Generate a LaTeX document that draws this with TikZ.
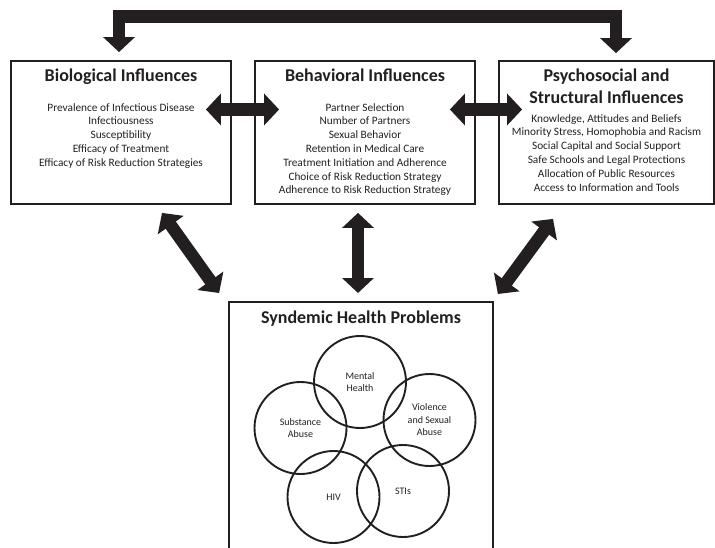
\documentclass[tikz,border=0pt]{standalone}
\usepackage{fontspec}
\setmainfont{Carlito}
\usetikzlibrary{arrows.meta,positioning}
\definecolor{ink}{HTML}{231F20}

\begin{document}
\begin{tikzpicture}[
  x=1pt, y=-1pt,
  box/.style={draw=ink, line width=1.8pt, minimum height=143pt, inner sep=0pt},
  heading/.style={font=\fontsize{18}{21.7}\selectfont\bfseries, align=center, text=ink, inner sep=0pt},
  items/.style={font=\fontsize{11.3}{13.8}\selectfont, align=center, text=ink, inner sep=0pt},
  issue/.style={draw=ink, line width=1.9pt, circle, minimum size=92pt, inner sep=0pt, align=center, text=ink, font=\fontsize{10}{12.5}\selectfont},
  darr/.style={line width=12.5pt, draw=ink, line join=miter, {Triangle[width=31pt,length=15pt]}-{Triangle[width=31pt,length=15pt]}}
]
\clip (0,0) rectangle (715,548);

% the three influence boxes
\node[box, minimum width=220pt] (bio) at (121,132.5) {};
\node[box, minimum width=220pt] (beh) at (365,132.5) {};
\node[box, minimum width=215pt] (psy) at (606.5,132.5) {};
\node[box, minimum width=264pt, minimum height=300pt, anchor=north] (synd) at (361,301) {};

\node[heading, below=9pt of bio.north] (biot) {Biological Influences};
\node[heading, below=9pt of beh.north] (beht) {Behavioral Influences};
\node[heading, below=9pt of psy.north] (psyt) {Psychosocial and\\Structural Influences};
\node[heading, below=10pt of synd.north] (syndt) {Syndemic Health Problems};

\node[items, below=43pt of bio.north] (bioi) {Prevalence of Infectious Disease\\Infectiousness\\Susceptibility\\Efficacy of Treatment\\Efficacy of Risk Reduction Strategies};
\node[items, below=43pt of beh.north] (behi) {Partner Selection\\Number of Partners\\Sexual Behavior\\Retention in Medical Care\\Treatment Initiation and Adherence\\Choice of Risk Reduction Strategy\\Adherence to Risk Reduction Strategy};
\node[items, below=54pt of psy.north] (psyi) {Knowledge, Attitudes and Beliefs\\Minority Stress, Homophobia and Racism\\Social Capital and Social Support\\Safe Schools and Legal Protections\\Allocation of Public Resources\\Access to Information and Tools};

% overlapping problems
\node[issue] (mental) at (360,382) {Mental\\Health};
\node[issue] (subst) at (300.5,428) {Substance\\Abuse};
\node[issue] (viol) at (429.5,420) {Violence\\and Sexual\\Abuse};
\node[issue] (hiv) at (333.5,497) {HIV};
\node[issue] (stis) at (403,491) {STIs};

% block arrows
\coordinate (topleft) at (119,16.5);
\coordinate (topright) at (616,16.5);
\draw[darr] ([xshift=-2pt,yshift=8pt]bio.north) -- (topleft) -- (topright) -- ([xshift=9.5pt,yshift=7pt]psy.north);
\draw[darr] ([xshift=-26pt,yshift=23pt]bio.east) -- ([xshift=25pt,yshift=23pt]beh.west);
\draw[darr] ([xshift=-26pt,yshift=23pt]beh.east) -- ([xshift=24pt,yshift=23pt]psy.west);
\draw[darr] ([xshift=41pt,yshift=-8pt]bio.south) -- ([xshift=-9pt,yshift=8pt]synd.north west);
\draw[darr] ([xshift=-7pt,yshift=-8pt]beh.south) -- ([xshift=-3pt,yshift=8pt]synd.north);
\draw[darr] ([xshift=-53.5pt,yshift=-14pt]psy.south) -- ([xshift=4pt,yshift=7pt]synd.north east);
\end{tikzpicture}
\end{document}
